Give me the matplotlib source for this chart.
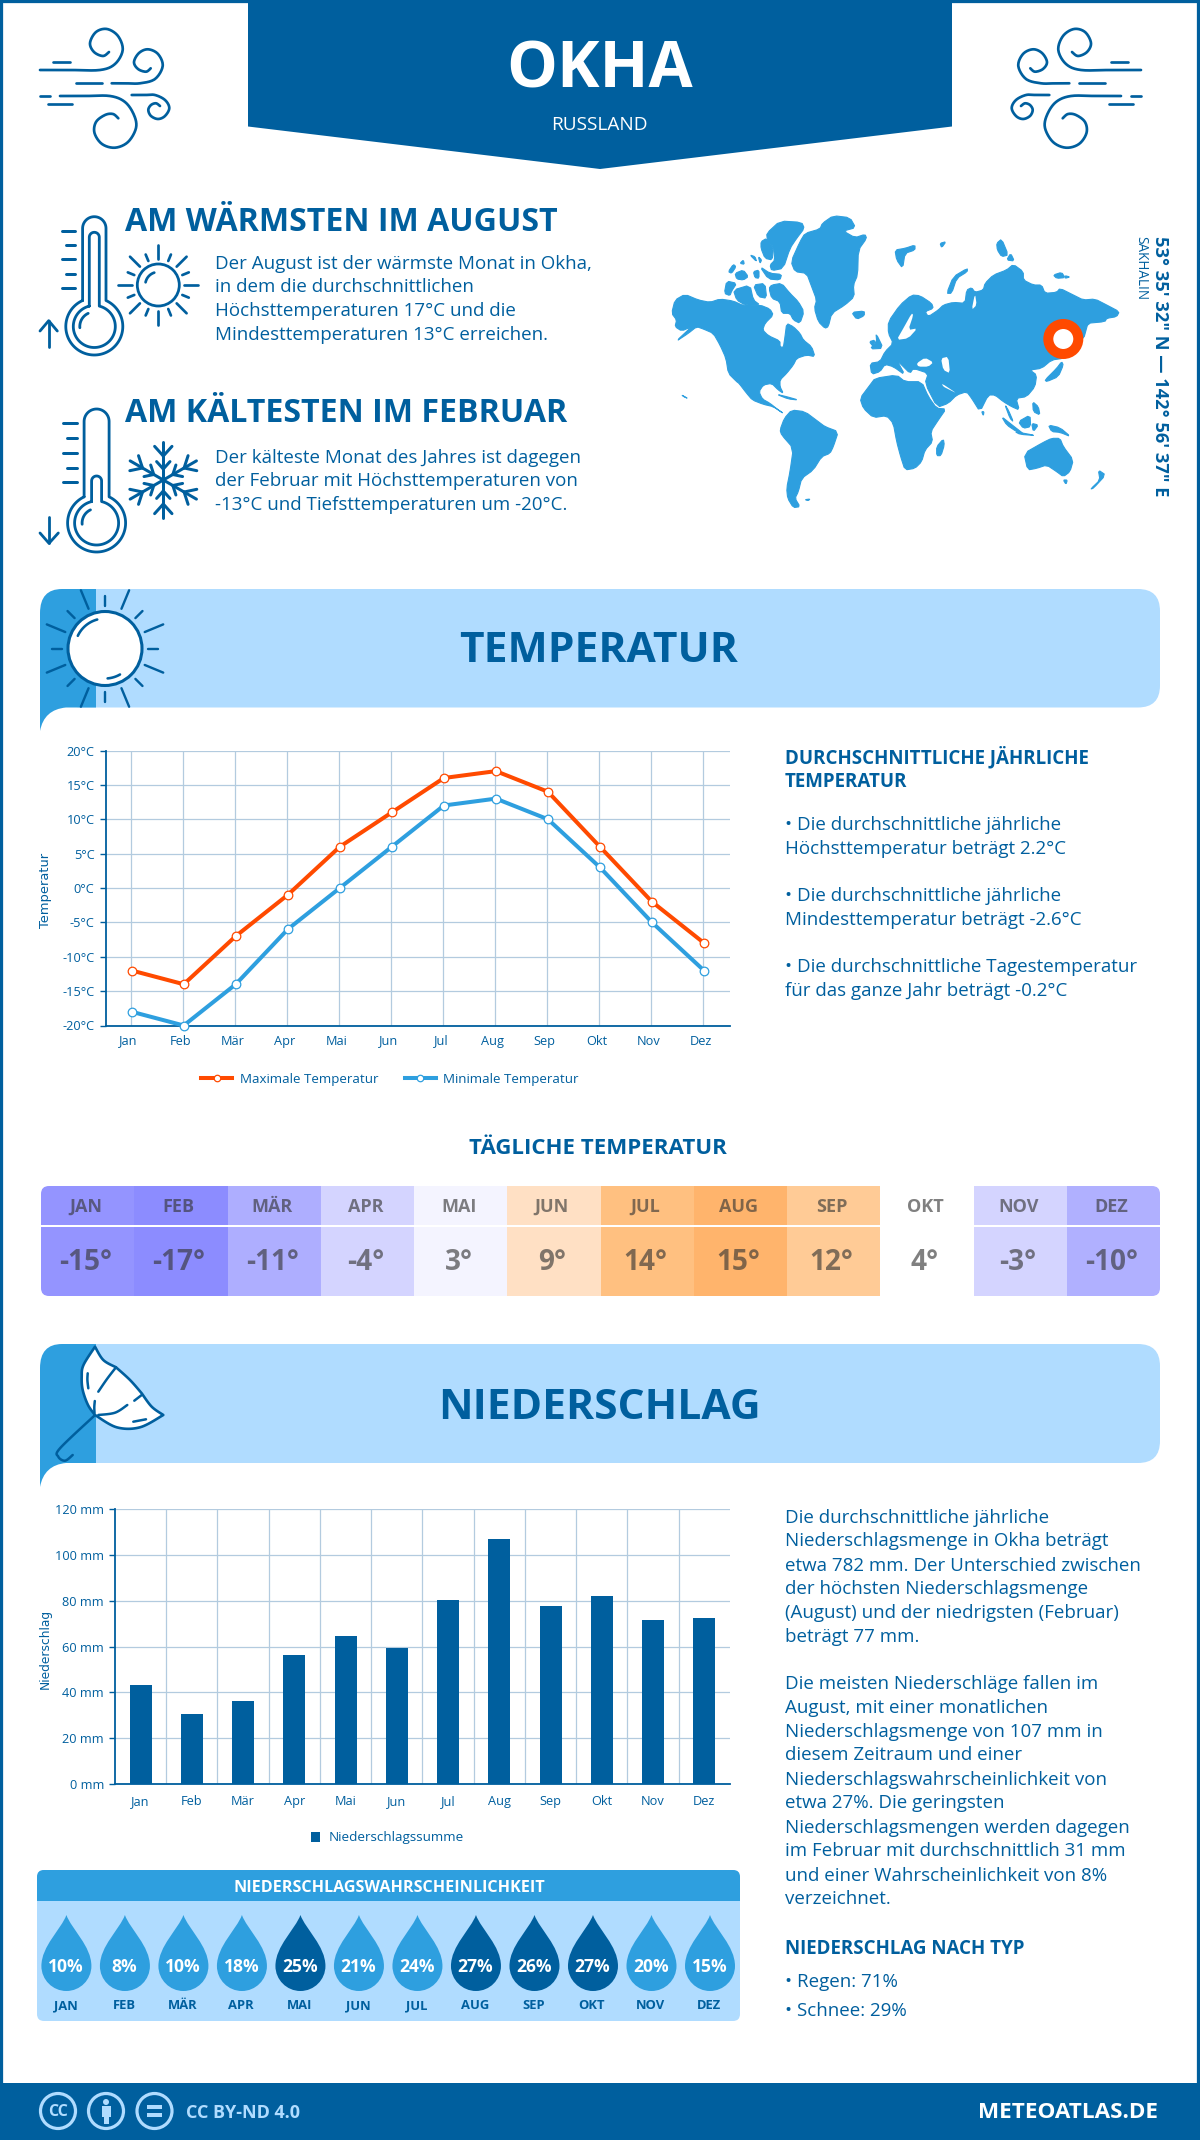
import numpy as np
import matplotlib
matplotlib.use('Agg')
import matplotlib.pyplot as plt
from matplotlib.path import Path
from matplotlib.patches import PathPatch, FancyBboxPatch, Rectangle, Polygon, Circle
from matplotlib.ticker import FixedLocator, FuncFormatter
from matplotlib.transforms import ScaledTranslation

# ---- data ----
months = ['Jan', 'Feb', 'Mär', 'Apr', 'Mai', 'Jun', 'Jul', 'Aug', 'Sep', 'Okt', 'Nov', 'Dez']
months_upper = ['JAN', 'FEB', 'MÄR', 'APR', 'MAI', 'JUN', 'JUL', 'AUG', 'SEP', 'OKT', 'NOV', 'DEZ']
temp_max = [-12, -14, -7, -1, 6, 11, 16, 17, 14, 6, -2, -8]
temp_min = [-18, -20, -14, -6, 0, 6, 12, 13, 10, 3, -5, -12]
daily_temp = [-15, -17, -11, -4, 3, 9, 14, 15, 12, 4, -3, -10]
daily_colors = ['#9494ff', '#8c8cff', '#aeaeff', '#d4d4ff', '#f4f4ff', '#ffe0c4',
                '#ffc080', '#ffb46c', '#ffcb96', '#ffffff', '#d4d4ff', '#b0b0ff']
precip = [43.3, 30.7, 36.4, 56.4, 64.7, 59.5, 80.4, 107, 77.8, 82.2, 71.7, 72.6]
precip_prob = [10, 8, 10, 18, 25, 21, 24, 27, 26, 27, 20, 15]

DARK = '#005f9e'
MID = '#2e9fdf'
LIGHT = '#b0dcff'
ORANGE = '#ff4a00'
GRID = '#b3cbdf'
FONT = 'Open Sans'

W, H = 1200, 2140
fig = plt.figure(figsize=(W / 100, H / 100), dpi=100, facecolor='white')
bg = fig.add_axes([0, 0, 1, 1])
bg.set_xlim(0, W)
bg.set_ylim(H, 0)
bg.axis('off')


def t(x, y, s, size, color=DARK, weight='normal', ha='left', **kw):
    return bg.text(x, y + 0.33 * size, s, fontsize=size * 0.72, color=color, fontweight=weight,
                   ha=ha, va='baseline', family=[FONT, 'DejaVu Sans'], **kw)


def ln(xs, ys, lw=2.6, color=DARK, **kw):
    bg.plot(xs, ys, color=color, lw=lw * 0.72, solid_capstyle=kw.pop('cap', 'round'), **kw)


def catmull(pts, n=12):
    p = np.array(pts, float)
    p = np.vstack([p[0], p, p[-1]])
    out = []
    for i in range(1, len(p) - 2):
        for u in np.linspace(0, 1, n, endpoint=False):
            out.append(0.5 * (2 * p[i] + (p[i + 1] - p[i - 1]) * u
                              + (2 * p[i - 1] - 5 * p[i] + 4 * p[i + 1] - p[i + 2]) * u ** 2
                              + (3 * p[i] - p[i - 1] - 3 * p[i + 1] + p[i + 2]) * u ** 3))
    out.append(p[-2])
    return np.array(out)


def chaikin(pts):
    p = np.array(pts, float)
    q = np.roll(p, -1, axis=0)
    both = np.empty((2 * len(p), 2))
    both[0::2] = 0.8 * p + 0.2 * q
    both[1::2] = 0.2 * p + 0.8 * q
    return both


wind_curves = [
    [(40, 70), (70, 70), (100, 70), (115, 64), (122.7, 50), (118, 36), (107, 29), (96, 32), (90, 43), (94, 52), (103, 56), (109, 52)],
    [(111.7, 83.3), (125, 83.3), (140, 83.3), (155, 79), (162.7, 66), (158, 54), (148, 49.3), (139, 53), (134, 62), (138, 69), (146, 71.7), (150.7, 68.3)],
    [(60, 96), (85, 96), (110, 96), (125, 102), (134, 115), (136, 128), (128, 142), (115, 147.7), (102, 144), (94.5, 133), (96, 122), (105, 115), (113, 114), (118.3, 118.3)],
    [(131.7, 95), (145, 95), (155, 95), (165, 100), (169.3, 108), (165, 116), (158, 119), (151, 116), (148.3, 110), (151, 105), (156, 103.3), (160, 106)],
]
wind_dashes = [((52.7, 70), (61.7, 61.7)), ((76, 101.7), (83.3, 83.3)), ((40, 50), (96, 96)), ((48, 71.7), (104, 104))]


def wind(mirror=None):
    f = (lambda x: np.asarray(x)) if mirror is None else (lambda x: mirror - np.asarray(x))
    for c in wind_curves:
        q = catmull(c)
        ln(f(q[:, 0]), q[:, 1], lw=2.7)
    for xs, ys in wind_dashes:
        ln(f(xs), ys, lw=2.7)


# frame
bg.add_patch(Rectangle((0, 0), W, H, fc='none', ec=DARK, lw=4.5, zorder=5))

# header
bg.add_patch(Polygon([(248, 0), (952, 0), (952, 126.5), (600, 169), (248, 126.5)], fc=DARK, ec='none', zorder=6))
t(600, 66, 'OKHA', 64, color='white', weight='bold', ha='center', zorder=7)
t(599, 124, 'RUSSLAND', 19, color='white', ha='center', zorder=7)
wind()
wind(1181)


def thermometer(cx, top, cy, r_out, r_in, tw_out, tw_in, tube_top):
    a0 = np.degrees(np.arcsin(tw_out / r_out))
    a = np.radians(np.linspace(-90 + a0, 270 - a0, 90))
    xo, yo = cx + r_out * np.cos(a), cy + r_out * np.sin(a)
    arc = np.radians(np.linspace(180, 360, 30))
    xt, yt = cx + tw_out * np.cos(arc), top + tw_out + tw_out * np.sin(arc)
    ln(np.r_[xo[-1], xt, xo], np.r_[yo[-1], yt, yo], lw=2.8)
    a0 = np.degrees(np.arcsin(tw_in / r_in))
    a = np.radians(np.linspace(-90 + a0, 270 - a0, 90))
    xi, yi = cx + r_in * np.cos(a), cy + r_in * np.sin(a)
    arc = np.radians(np.linspace(180, 360, 20))
    xt, yt = cx + tw_in * np.cos(arc), tube_top + tw_in + tw_in * np.sin(arc)
    ln(np.r_[xi[-1], xt, xi], np.r_[yi[-1], yt, yi], lw=2.8)
    a = np.radians(np.linspace(175, 245, 20))
    ln(cx + 14.5 * np.cos(a), cy + 14.5 * np.sin(a), lw=2.8)


thermometer(94.3, 216.7, 326.5, 28.5, 21, 11.7, 5, 232.3)
for i, y in enumerate([231, 245, 259.3, 273.7, 287.7]):
    ln([62.3, 75] if i % 2 == 0 else [65.7, 75], [y, y], lw=3)
ln([48.7, 48.7], [320.7, 346.7], lw=2.8)
ln([40, 48.7, 57.3], [331, 320.7, 331], lw=2.8)

thermometer(96.6, 409, 523, 29, 22, 12.5, 5, 476)
for i, y in enumerate([423.3, 438.3, 452.7, 467.7, 482.3]):
    ln([63.3, 76.7] if i % 2 == 0 else [66.7, 76.7], [y, y], lw=3)
ln([49, 49], [516.7, 543.3], lw=2.8)
ln([40, 49, 58.3], [533, 543.3, 533], lw=2.8)

# small sun
bg.add_patch(Circle((158.3, 285), 21, fc='none', ec=DARK, lw=2))
a = np.radians(np.linspace(192, 252, 20))
ln(158.3 + 13 * np.cos(a), 285 + 13 * np.sin(a), lw=2.7)
for i, ang in enumerate(np.arange(0, 360, 22.5)):
    c, s = np.cos(np.radians(ang)), np.sin(np.radians(ang))
    r0, r1 = (26, 40) if i % 2 == 0 else (26, 33)
    ln([158.3 + r0 * c, 158.3 + r1 * c], [285 + r0 * s, 285 + r1 * s], lw=2.7)

# snowflake
for ang in (90, 30, -30, -90, -150, 150):
    c, s = np.cos(np.radians(ang)), np.sin(np.radians(ang))
    ln([163.3, 163.3 + 38.3 * c], [480, 480 - 38.3 * s], lw=3)
    for r, l, d0 in [(24, 13, 42), (11, 10, 42)]:
        for d in (-d0, d0):
            ca, sa = np.cos(np.radians(ang + d)), np.sin(np.radians(ang + d))
            ln([163.3 + r * c, 163.3 + r * c + l * ca], [480 - r * s, 480 - r * s - l * sa], lw=3)

# intro text
t(125, 220, 'AM WÄRMSTEN IM AUGUST', 32.1, weight='bold')
for y, s in zip([262.5, 286, 310, 334], ['Der August ist der wärmste Monat in Okha,', 'in dem die durchschnittlichen',
                                         'Höchsttemperaturen 17°C und die', 'Mindesttemperaturen 13°C erreichen.']):
    t(215, y, s, 18.8)
t(125, 411, 'AM KÄLTESTEN IM FEBRUAR', 32.1, weight='bold')
for y, s in zip([457, 480, 504], ['Der kälteste Monat des Jahres ist dagegen', 'der Februar mit Höchsttemperaturen von',
                                  '-13°C und Tiefsttemperaturen um -20°C.']):
    t(215, y, s, 18.8)

# world map outlines, west part anchored at (665, 205), east part at (860, 205), 3 units per pixel
land_west = [
    [(20,325),(30,285),(60,268),(100,285),(135,292),(165,282),(205,288),(235,302),(285,300),(315,312),(325,330),(300,355),(293,375),(310,392),(345,408),(345,425),(355,428),(360,395),(365,355),(385,365),(405,385),(415,405),(440,425),(450,455),(425,450),(395,460),(385,480),(365,505),(345,525),(345,545),(355,565),(340,555),(320,535),(295,540),(282,560),(292,582),(315,595),(340,615),(355,625),(325,605),(295,598),(262,585),(245,565),(222,535),(215,530),(190,505),(183,460),(165,420),(145,385),(115,372),(95,365),(70,385),(32,410),(80,365),(50,378),(30,365),(35,345)],
    [(312,250),(320,240),(350,235),(375,265),(400,290),(417,320),(405,355),(385,345),(375,325),(350,325),(345,290),(320,280)],
    [(305,85),(345,48),(410,52),(418,70),(395,100),(375,130),(355,190),(320,197),(315,180),(330,165),(325,125),(307,105)],
    [(288,110),(305,100),(325,130),(322,165),(300,160),(288,130)],
    [(178,265),(185,228),(215,235),(200,258),(195,272)],
    [(205,255),(255,240),(265,285),(285,300),(240,300),(215,285)],
    [(210,205),(235,195),(250,215),(235,225),(215,222)],
    [(190,200),(205,178),(213,185),(200,205)],
    [(225,175),(235,165),(238,178)],
    [(255,150),(270,155),(275,170)],
    [(265,200),(282,195),(282,220),(270,218)],
    [(285,185),(315,205),(350,208),(345,225),(310,222)],
    [(265,240),(300,235),(305,280),(280,275)],
    [(280,155),(290,165),(285,175)],
    [(378,170),(405,110),(420,85),(465,72),(472,55),(505,32),(555,38),(572,68),(535,78),(570,98),(600,88),(605,100),(580,135),(578,210),(565,240),(568,275),(540,300),(500,325),(490,365),(480,370),(460,350),(448,310),(455,285),(440,245),(425,205),(390,200)],
    [(560,322),(598,318),(598,332),(575,343)],
    [(345,675),(358,640),(380,615),(420,620),(460,650),(480,665),(520,680),(505,725),(495,745),(470,755),(445,795),(410,820),(400,860),(390,880),(405,905),(385,908),(368,880),(365,850),(375,800),(385,730),(350,690)],
    [(420,884),(435,882),(430,887)],
    [(335,568),(365,575),(400,585),(370,582)],
    [(50,570),(68,580),(58,576)],
]
land_east = [
    [(0,580),(30,540),(45,520),(110,510),(135,530),(185,530),(205,575),(230,610),(258,612),(235,645),(212,680),(218,710),(195,735),(185,770),(165,790),(135,795),(122,755),(110,710),(100,655),(80,632),(40,638),(10,610)],
    [(250,702),(253,720),(243,752),(230,752),(230,725)],
    [(30,475),(60,470),(75,440),(100,415),(85,385),(85,350),(120,300),(155,270),(180,272),(215,295),(220,310),(195,320),(205,335),(235,315),(250,300),(280,292),(315,295),(320,255),(335,248),(345,262),(370,255),(375,235),(400,210),(440,195),(460,178),(490,200),(490,225),(520,240),(545,240),(555,265),(590,262),(600,250),(640,270),(670,285),(705,282),(740,300),(778,320),(770,335),(740,340),(735,350),(680,355),(670,400),(640,440),(610,460),(575,465),(545,490),(510,495),(530,510),(525,545),(500,575),(468,580),(478,615),(455,605),(430,590),(405,570),(385,570),(360,620),(335,580),(320,560),(290,570),(265,595),(232,607),(195,535),(205,505),(160,490),(150,505),(125,480),(110,465),(135,510),(100,485),(75,478),(60,500),(35,508)],
    [(48,385),(70,430),(30,432),(50,410)],
    [(28,410),(45,405),(40,425)],
    [(105,135),(135,130),(165,120),(165,135),(135,145),(128,190),(110,165)],
    [(260,265),(280,215),(322,190),(322,200),(290,220),(275,265)],
    [(410,115),(425,102),(445,150),(425,155),(412,135)],
    [(440,165),(452,145),(463,168)],
    [(580,210),(605,202),(615,218),(590,220)],
    [(615,212),(630,216),(615,220)],
    [(240,115),(258,110),(245,128)],
    [(555,525),(590,490),(605,470),(610,480),(595,515),(560,530)],
    [(665,375),(685,350),(670,405)],
    [(365,620),(372,620),(370,632)],
    [(425,635),(450,655),(495,690),(470,680),(440,660)],
    [(465,680),(530,692),(480,688)],
    [(435,600),(445,615),(460,650),(450,640)],
    [(475,650),(510,630),(512,665),(490,670)],
    [(515,655),(535,660),(520,680)],
    [(518,590),(535,605),(540,630),(520,620)],
    [(565,660),(600,668),(632,695),(600,682),(575,680)],
    [(492,745),(550,712),(575,700),(600,700),(610,725),(640,765),(630,800),(610,815),(590,800),(560,780),(530,790),(503,795)],
    [(610,825),(622,825),(618,838)],
    [(692,852),(720,825),(715,795),(737,810),(700,850)],
]
water_east = [
    [(170,475),(195,458),(220,472),(205,485),(175,485)],
    [(243,460),(265,455),(270,505),(250,495)],
    [(155,325),(130,370),(110,405),(145,400),(172,370),(145,375),(160,330)],
    [(335,315),(345,265),(350,300)],
    [(245,535),(290,565),(270,555),(250,545)],
]
mw = lambda pts: [(665 + a / 3, 205 + b / 3) for a, b in pts]
me = lambda pts: [(860 + a / 3, 205 + b / 3) for a, b in pts]
for p in land_west:
    bg.add_patch(Polygon(chaikin(mw(p)), fc=MID, ec=MID, lw=0.8, joinstyle='round'))
for p in land_east:
    bg.add_patch(Polygon(chaikin(me(p)), fc=MID, ec=MID, lw=0.8, joinstyle='round'))
for p in water_east:
    bg.add_patch(Polygon(chaikin(me(p)), fc='white', ec='none'))
bg.add_patch(Circle((1063.3, 339), 15, fc='white', ec=ORANGE, lw=7.2))
bg.text(1155, 236, '53° 35\' 32" N — 142° 56\' 37" E', fontsize=18.3 * 0.72, color=DARK, fontweight='bold',
        rotation=-90, rotation_mode='anchor', ha='left', va='baseline', family=FONT)
bg.text(1137, 236, 'SAKHALIN', fontsize=13.5 * 0.72, color=DARK,
        rotation=-90, rotation_mode='anchor', ha='left', va='baseline', family=FONT)


def banner(y0, y1, yf, title, dy):
    bg.add_patch(FancyBboxPatch((60, y0), 1100, y1 - y0, boxstyle='round,pad=0,rounding_size=22', fc=LIGHT, ec='none'))
    verts = [(96, y0), (62, y0), (40, y0), (40, y0 + 24), (40, yf), (44, y1 + 2), (66, y1), (96, y1), (96, y0)]
    codes = [Path.MOVETO, Path.LINETO, Path.CURVE3, Path.CURVE3, Path.LINETO, Path.CURVE3, Path.CURVE3, Path.LINETO, Path.CLOSEPOLY]
    bg.add_patch(PathPatch(Path(verts, codes), fc=MID, ec='none'))
    t(599, (y0 + y1) / 2 + dy, title, 42.5, weight='bold', ha='center')


banner(589, 707.5, 731, 'TEMPERATUR', 0)
banner(1344, 1463, 1487, 'NIEDERSCHLAG', 1)

# banner sun
sx, sy = 105, 648.5
bg.add_patch(Circle((sx, sy), 37, fc='white', ec=DARK, lw=2.2, zorder=3))
a = np.radians(np.linspace(205, 255, 20))
ln(sx + 30 * np.cos(a), sy + 30 * np.sin(a), zorder=4)
a = np.radians(np.linspace(60, 85, 20))
ln(sx + 30 * np.cos(a), sy + 30 * np.sin(a), zorder=4)
for i, ang in enumerate(np.arange(-90, 270, 22.5)):
    c, s = np.cos(np.radians(ang)), np.sin(np.radians(ang))
    r0, r1 = (43, 53) if i % 2 == 0 else (43, 63)
    ln([sx + r0 * c, sx + r1 * c], [sy + r0 * s, sy + r1 * s], lw=2.4, zorder=3)

# umbrella
segments = [
    [(95, 1346.7), (103.3, 1360), (116, 1367.3)],
    [(116, 1367.3), (130, 1380), (141.7, 1393.3)],
    [(141.7, 1393.3), (151.7, 1406.7), (163.3, 1415)],
    [(163.3, 1415), (140, 1427.3), (116.7, 1427.3), (95, 1415)],
    [(95, 1415), (88, 1405), (82.7, 1390), (81.7, 1376.7), (83.5, 1365), (95, 1346.7)],
]
umb = np.vstack([catmull(s) for s in segments])
bg.add_patch(Polygon(umb, fc='white', ec=DARK, lw=1.9, joinstyle='round', zorder=3))
for pts in ([(94, 1416), (60, 1448.3), (58.3, 1456.7), (65, 1460.7), (72.7, 1455)],
            [(116, 1367.3), (107, 1379), (98.3, 1391.7)],
            [(94.8, 1401), (94.3, 1407), (94.5, 1413)],
            [(141.7, 1395), (134.3, 1400.7)],
            [(127.3, 1405), (115, 1412.7), (98.3, 1415)],
            [(87.7, 1373.3), (87.4, 1380), (88.3, 1388.3)],
            [(133.3, 1421.7), (146, 1419.3)]):
    q = catmull(pts)
    ln(q[:, 0], q[:, 1], lw=2.5, zorder=4)


# charts
def chart_ax(x0, y0, x1, y1):
    return fig.add_axes([x0 / W, 1 - y1 / H, (x1 - x0) / W, (y1 - y0) / H])


def style(ax):
    ax.set_facecolor('none')
    for k in ('top', 'right'):
        ax.spines[k].set_visible(False)
    for k in ('left', 'bottom'):
        ax.spines[k].set_color(DARK)
        ax.spines[k].set_linewidth(1.3)
    ax.set_axisbelow(True)
    ax.tick_params(axis='y', length=4, width=1, color=DARK, labelcolor=DARK, labelsize=9.2, pad=4)
    ax.tick_params(axis='x', length=0, labelcolor=DARK, labelsize=9.2)
    for lab in ax.get_xticklabels() + ax.get_yticklabels():
        lab.set_family(FONT)


ax = chart_ax(105.7, 750.5, 730, 1025.5)
x = np.arange(12)
ax.plot(x, temp_max, color=ORANGE, lw=2.9, marker='o', ms=6.2, mfc='white', mec=ORANGE, mew=0.9, clip_on=False,
        label='Maximale Temperatur', zorder=4)
ax.plot(x, temp_min, color=MID, lw=2.9, marker='o', ms=6.2, mfc='white', mec=MID, mew=0.9, clip_on=False,
        label='Minimale Temperatur', zorder=4)
ax.set_xlim(-0.5, 11.5)
ax.set_ylim(-20, 20)
ax.set_xticks(x - 0.02)
ax.set_xticklabels(months)
ax.set_yticks(np.arange(-20, 21, 5))
ax.yaxis.set_major_formatter(FuncFormatter(lambda v, _: f'{v:.0f}°C'))
ax.grid(True, color=GRID, lw=0.9)
style(ax)
ax.tick_params(axis='x', pad=6.5)
ax.set_ylabel('Temperatur', color=DARK, fontsize=9.4)
ax.yaxis.set_label_coords((52 - 105.7) / 624.3, 0.49)
shift = ScaledTranslation(-2 / 100, 0, fig.dpi_scale_trans)
for lab in ax.get_xticklabels():
    lab.set_transform(lab.get_transform() + shift)
ax.legend(loc='center', bbox_to_anchor=(390 / W, 1 - 1079 / H), bbox_transform=fig.transFigure, ncol=2, frameon=False,
          labelcolor=DARK, prop={'family': FONT, 'size': 9.66}, columnspacing=2.0, handlelength=2.3, handletextpad=0.55,
          markerscale=0.75)

# right text 1
t(785, 757, 'DURCHSCHNITTLICHE JÄHRLICHE', 18.8, weight='bold')
t(785, 781, 'TEMPERATUR', 18.8, weight='bold')
for y, s in zip([824, 848, 895, 919, 966, 990],
                ['• Die durchschnittliche jährliche', 'Höchsttemperatur beträgt 2.2°C',
                 '• Die durchschnittliche jährliche', 'Mindesttemperatur beträgt -2.6°C',
                 '• Die durchschnittliche Tagestemperatur', 'für das ganze Jahr beträgt -0.2°C']):
    t(785, y, s, 18.8)

# daily table
t(598, 1147, 'TÄGLICHE TEMPERATUR', 22.3, weight='bold', ha='center')
clip = FancyBboxPatch((41, 1186), 1119, 110, boxstyle='round,pad=0,rounding_size=8', fc='none', ec='none',
                      transform=bg.transData)
bg.add_patch(clip)
cw = 1119 / 12
for i, (m, v, c) in enumerate(zip(months_upper, daily_temp, daily_colors)):
    x0 = 41 + i * cw
    r = bg.add_patch(Rectangle((x0, 1186), cw + 0.3, 110, fc=c, ec='none'))
    r.set_clip_path(clip)
    t(x0 + cw / 2 - 2, 1206, m, 18, color='#333333', weight='bold', ha='center', alpha=0.62)
    t(x0 + cw / 2 - 2, 1261, f'{v}°', 28, color='#333333', weight='bold', ha='center', alpha=0.62)
ln([41, 1160], [1225.5, 1225.5], lw=2, color='white', cap='butt')

# precipitation chart
ax2 = chart_ax(115, 1509, 730, 1784)
x = np.arange(12)
ax2.bar(x, precip, width=0.43, color=DARK, label='Niederschlagssumme', zorder=3)
ax2.set_xlim(-0.5, 11.5)
ax2.set_ylim(0, 120)
ax2.set_xticks(x)
ax2.set_xticklabels(months)
ax2.xaxis.set_minor_locator(FixedLocator(np.arange(0.5, 11.5, 1)))
ax2.set_yticks(np.arange(0, 121, 20))
ax2.yaxis.set_major_formatter(FuncFormatter(lambda v, _: f'{v:.0f} mm'))
ax2.grid(True, axis='y', color=GRID, lw=0.9)
ax2.grid(True, axis='x', which='minor', color=GRID, lw=0.9)
style(ax2)
ax2.tick_params(axis='x', which='minor', length=0)
ax2.tick_params(axis='x', pad=8)
ax2.set_ylabel('Niederschlag', color=DARK, fontsize=8.8)
ax2.yaxis.set_label_coords((52 - 115) / 615, 0.49)
ax2.legend(loc='center', bbox_to_anchor=(387 / W, 1 - 1838 / H), bbox_transform=fig.transFigure, frameon=False,
           labelcolor=DARK, prop={'family': FONT, 'size': 9.7}, handlelength=0.7, handleheight=0.7, handletextpad=0.6)

# right text 2
para = [(1111, 'Die durchschnittliche jährliche'), (1128, 'Niederschlagsmenge in Okha beträgt'),
        (1146, 'etwa 782 mm. Der Unterschied zwischen'), (1163, 'der höchsten Niederschlagsmenge'),
        (1181, '(August) und der niedrigsten (Februar)'), (1198, 'beträgt 77 mm.'),
        (1233, 'Die meisten Niederschläge fallen im'), (1250, 'August, mit einer monatlichen'),
        (1268, 'Niederschlagsmenge von 107 mm in'), (1285, 'diesem Zeitraum und einer'),
        (1303, 'Niederschlagswahrscheinlichkeit von'), (1320, 'etwa 27%. Die geringsten'),
        (1338, 'Niederschlagsmengen werden dagegen'), (1355, 'im Februar mit durchschnittlich 31 mm'),
        (1373, 'und einer Wahrscheinlichkeit von 8%'), (1390, 'verzeichnet.')]
for y, s in para:
    t(785, y * 1200 / 879, s, 18.8)
t(785, 1427 * 1200 / 879, 'NIEDERSCHLAG NACH TYP', 18.8, weight='bold')
t(785, 1451 * 1200 / 879, '• Regen: 71%', 18.8)
t(785, 1472 * 1200 / 879, '• Schnee: 29%', 18.8)

# probability panel
clip2 = FancyBboxPatch((37, 1870), 703, 151, boxstyle='round,pad=0,rounding_size=7', fc='none', ec='none')
bg.add_patch(clip2)
r = bg.add_patch(Rectangle((37, 1870), 703, 151, fc=LIGHT, ec='none'))
r.set_clip_path(clip2)
r = bg.add_patch(Rectangle((37, 1870), 703, 31, fc=MID, ec='none'))
r.set_clip_path(clip2)
t(389, 1887, 'NIEDERSCHLAGSWAHRSCHEINLICHKEIT', 16.1, color='white', weight='bold', ha='center')


def drop(cx, color):
    top, cy, rad, bot = 1915, 1966, 25, 1991
    k = 0.55 * rad
    verts = [(cx, top), (cx + 5, top + 14), (cx + rad, cy - 20), (cx + rad, cy),
             (cx + rad, cy + k), (cx + k, bot), (cx, bot),
             (cx - k, bot), (cx - rad, cy + k), (cx - rad, cy),
             (cx - rad, cy - 20), (cx - 5, top + 14), (cx, top), (cx, top)]
    codes = [Path.MOVETO] + [Path.CURVE4] * 12 + [Path.CLOSEPOLY]
    bg.add_patch(PathPatch(Path(verts, codes), fc=color, ec='none'))


for i, (m, v) in enumerate(zip(months_upper, precip_prob)):
    cx = 66.4 + i * (710 - 66.4) / 11
    drop(cx, DARK if v >= 25 else MID)
    t(cx - 0.5, 1966, f'{v}%', 17.5, color='white', weight='bold', ha='center')
    t(cx - 1, 2005, m, 13, weight='bold', ha='center')

# footer
bg.add_patch(Rectangle((0, 2083), W, 57, fc=DARK, ec='none', zorder=6))
for cx in (58, 106, 154.5):
    bg.add_patch(Circle((cx, 2111), 17.5, fc='none', ec=LIGHT, lw=2.3, zorder=7))
t(58, 2111, 'CC', 16, color=LIGHT, weight='bold', ha='center', zorder=8)
bg.add_patch(Circle((106, 2102), 3, fc=LIGHT, ec='none', zorder=8))
bg.add_patch(Rectangle((101.5, 2106), 9, 11, fc=LIGHT, ec='none', zorder=8))
bg.add_patch(Rectangle((103.5, 2116), 5, 8, fc=LIGHT, ec='none', zorder=8))
bg.add_patch(Rectangle((147, 2105), 15, 3.5, fc=LIGHT, ec='none', zorder=8))
bg.add_patch(Rectangle((147, 2113), 15, 3.5, fc=LIGHT, ec='none', zorder=8))
t(186, 2112, 'CC BY-ND 4.0', 18, color=LIGHT, weight='bold', zorder=8)
t(1158, 2111, 'METEOATLAS.DE', 22.5, color='white', weight='bold', ha='right', zorder=8)

fig.savefig('out.png', dpi=100, facecolor='white')
